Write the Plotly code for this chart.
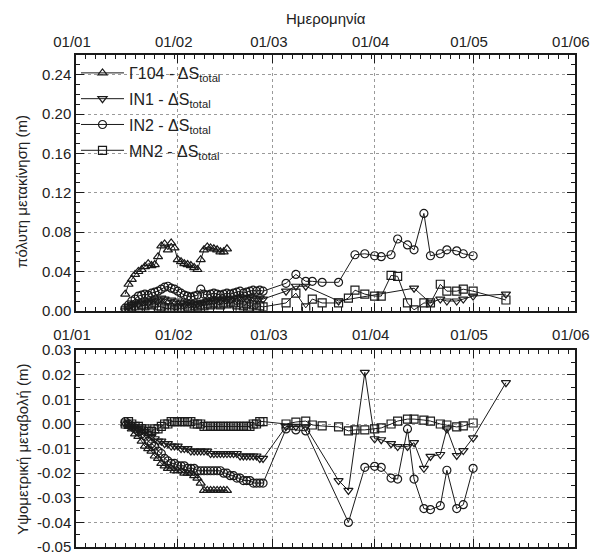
import pandas as pd
import plotly.graph_objects as go

# ---------------- data ----------------
g104_dates = [d.strftime("%Y-%m-%d") for d in pd.date_range("2008-01-16", periods=32)]
early_dates = [d.strftime("%Y-%m-%d") for d in pd.date_range("2008-01-16", periods=43)]

g104_top = [0.017,0.027,0.032,0.037,0.040,0.042,0.045,0.048,0.046,0.047,
            0.055,0.066,0.068,0.062,0.069,0.064,0.052,0.050,0.048,0.047,
            0.046,0.044,0.042,0.052,0.062,0.065,0.064,0.063,0.062,0.060,
            0.060,0.063]
g104_bot = [0.000,-0.001,-0.002,-0.004,-0.005,-0.007,-0.009,-0.010,-0.011,-0.013,
            -0.014,-0.016,-0.017,-0.018,-0.018,-0.019,-0.019,-0.019,-0.020,-0.020,
            -0.020,-0.021,-0.022,-0.024,-0.027,-0.027,-0.027,-0.027,-0.027,-0.027,
            -0.027,-0.027]

in1_top_early = [0.000,0.004,0.006,0.008,0.007,0.009,0.010,0.008,0.011,0.012,
                 0.010,0.013,0.012,0.010,0.011,0.009,0.010,0.008,0.007,0.009,
                 0.008,0.006,0.007,0.008,0.009,0.010,0.011,0.010,0.012,0.011,
                 0.013,0.012,0.011,0.013,0.012,0.014,0.013,0.012,0.014,0.013,
                 0.012,0.013,0.012]
in2_top_early = [0.003,0.006,0.010,0.012,0.015,0.016,0.017,0.016,0.018,0.019,
                 0.020,0.022,0.024,0.025,0.023,0.022,0.020,0.018,0.016,0.015,
                 0.014,0.015,0.016,0.022,0.017,0.016,0.017,0.018,0.017,0.016,
                 0.017,0.018,0.017,0.018,0.019,0.020,0.018,0.019,0.020,0.021,
                 0.020,0.021,0.020]
mn2_top_early = [0.000,0.002,0.004,0.005,0.003,0.006,0.005,0.007,0.006,0.008,
                 0.005,0.004,0.003,0.002,0.003,0.001,0.002,0.003,0.002,0.004,
                 0.003,0.005,0.004,0.006,0.005,0.007,0.006,0.008,0.007,0.006,
                 0.008,0.007,0.009,0.008,0.006,0.003,0.005,0.007,0.004,0.006,
                 0.003,0.005,0.004]
in1_bot_early = [0.000,0.000,-0.001,-0.001,-0.002,-0.002,-0.003,-0.004,-0.005,-0.006,
                 -0.007,-0.007,-0.008,-0.008,-0.009,-0.009,-0.009,-0.010,-0.010,-0.010,
                 -0.011,-0.011,-0.011,-0.011,-0.011,-0.011,-0.012,-0.012,-0.012,-0.012,
                 -0.012,-0.012,-0.012,-0.012,-0.012,-0.013,-0.013,-0.013,-0.013,-0.013,
                 -0.013,-0.014,-0.014]
in2_bot_early = [0.001,0.000,-0.001,-0.002,-0.003,-0.004,-0.005,-0.007,-0.008,-0.009,
                 -0.011,-0.012,-0.014,-0.015,-0.016,-0.016,-0.017,-0.017,-0.017,-0.018,
                 -0.018,-0.018,-0.019,-0.019,-0.019,-0.019,-0.019,-0.019,-0.019,-0.019,
                 -0.020,-0.020,-0.021,-0.021,-0.022,-0.022,-0.023,-0.023,-0.023,-0.024,
                 -0.024,-0.024,-0.024]
mn2_bot_early = [0.000,0.001,0.000,-0.001,-0.001,-0.002,-0.002,-0.003,-0.003,-0.002,
                 -0.002,-0.001,0.000,0.000,0.001,0.001,0.001,0.001,0.001,0.001,
                 0.001,0.000,0.000,0.000,-0.001,-0.001,-0.001,-0.001,-0.001,-0.001,
                 -0.001,-0.001,-0.001,-0.001,-0.001,-0.001,-0.001,-0.001,-0.001,0.000,
                 0.000,0.001,0.001]

in2_top_late_dates = ["2008-03-05","2008-03-08","2008-03-11","2008-03-13","2008-03-16","2008-03-21",
                      "2008-03-26","2008-03-29","2008-04-01","2008-04-03","2008-04-06","2008-04-08",
                      "2008-04-11","2008-04-13","2008-04-16","2008-04-18","2008-04-21","2008-04-23",
                      "2008-04-26","2008-04-28","2008-05-01"]
in2_top_late = [0.028,0.037,0.030,0.030,0.029,0.029,0.057,0.058,0.056,0.055,0.057,0.073,
                0.067,0.062,0.099,0.056,0.058,0.062,0.061,0.058,0.056]

in2_bot_late_dates = ["2008-03-05","2008-03-08","2008-03-11","2008-03-24","2008-03-29","2008-04-01",
                      "2008-04-03","2008-04-06","2008-04-08","2008-04-11","2008-04-13","2008-04-16",
                      "2008-04-18","2008-04-21","2008-04-23","2008-04-26","2008-04-28","2008-05-01"]
in2_bot_late = [-0.002,-0.0024,-0.0028,-0.040,-0.0176,-0.0172,-0.0176,-0.022,-0.0224,-0.002,
                -0.0224,-0.0344,-0.0348,-0.0332,-0.0188,-0.0344,-0.0328,-0.018]

mn2_late_dates = ["2008-03-05","2008-03-08","2008-03-11","2008-03-13","2008-03-16","2008-03-21",
                  "2008-03-24","2008-03-26","2008-03-29","2008-04-01","2008-04-03","2008-04-06",
                  "2008-04-08","2008-04-11","2008-04-13","2008-04-16","2008-04-18","2008-04-21",
                  "2008-04-23","2008-04-26","2008-04-28","2008-05-01","2008-05-11"]
mn2_top_late = [0.008,0.018,0.003,0.012,0.008,0.008,0.013,0.021,0.017,0.015,0.015,0.036,
                0.035,0.008,0.001,0.008,0.008,0.027,0.020,0.020,0.022,0.020,0.011]
mn2_bot_late = [0.000,0.0008,0.0012,-0.0004,-0.0008,-0.0012,-0.0028,-0.0024,-0.0024,-0.002,
                -0.0016,0.000,0.0012,0.002,0.002,0.0016,0.0012,0.000,-0.0004,-0.0012,
                -0.0008,0.0004]

in1_top_late_dates = ["2008-03-05","2008-03-08","2008-03-11","2008-03-21","2008-04-13","2008-04-18",
                      "2008-04-21","2008-04-23","2008-04-26","2008-04-28","2008-05-01","2008-05-11"]
in1_top_late = [0.020,0.025,0.025,0.010,0.023,0.008,0.012,0.010,0.010,0.012,0.015,0.017]

in1_bot_late_dates = ["2008-03-05","2008-03-08","2008-03-11","2008-03-21","2008-03-24","2008-03-29",
                      "2008-04-01","2008-04-03","2008-04-06","2008-04-08","2008-04-11","2008-04-13",
                      "2008-04-16","2008-04-18","2008-04-21","2008-04-23","2008-04-26","2008-04-28",
                      "2008-05-01","2008-05-11"]
in1_bot_late = [-0.001,-0.001,-0.0012,-0.023,-0.027,0.021,-0.006,-0.0064,-0.008,-0.0092,
                -0.0092,-0.0076,-0.018,-0.0132,-0.0124,-0.002,-0.0128,-0.0108,-0.0056,0.0168]

names = ["Γ104 - ΔS<sub>total</sub>", "IN1 - ΔS<sub>total</sub>",
         "IN2 - ΔS<sub>total</sub>", "MN2 - ΔS<sub>total</sub>"]
symbols = ["triangle-up-open", "triangle-down-open", "circle-open", "square-open"]

month_ticks = ["2008-01-01", "2008-02-01", "2008-03-01", "2008-04-01", "2008-05-01", "2008-06-01"]
month_labels = ["01/01", "01/02", "01/03", "01/04", "01/05", "01/06"]
x_range = ["2008-01-01", "2008-06-01 01:00"]
top_y_ticks = [0.00, 0.04, 0.08, 0.12, 0.16, 0.20, 0.24]
bot_y_ticks = [-0.05, -0.04, -0.03, -0.02, -0.01, 0.00, 0.01, 0.02, 0.03]

# ---------------- figure ----------------
series_top = [
    (g104_dates, g104_top),
    (early_dates + in1_top_late_dates, in1_top_early + in1_top_late),
    (early_dates + in2_top_late_dates, in2_top_early + in2_top_late),
    (early_dates + mn2_late_dates, mn2_top_early + mn2_top_late),
]
series_bot = [
    (g104_dates, g104_bot),
    (early_dates + in1_bot_late_dates, in1_bot_early + in1_bot_late),
    (early_dates + in2_bot_late_dates, in2_bot_early + in2_bot_late),
    (early_dates + mn2_late_dates[:len(mn2_bot_late)], mn2_bot_early + mn2_bot_late),
]

INK = "#1a1a1a"
fig = go.Figure()
for i, (xs, ys) in enumerate(series_top):
    fig.add_trace(go.Scatter(x=xs, y=ys, mode="lines+markers", name=names[i],
                             legendgroup=f"g{i}",
                             line=dict(color=INK, width=1),
                             marker=dict(symbol=symbols[i], size=8, color=INK,
                                         line=dict(width=1.2, color=INK)),
                             xaxis="x", yaxis="y"))
for i, (xs, ys) in enumerate(series_bot):
    fig.add_trace(go.Scatter(x=xs, y=ys, mode="lines+markers", name=names[i],
                             showlegend=False, legendgroup=f"g{i}",
                             line=dict(color=INK, width=1),
                             marker=dict(symbol=symbols[i], size=8, color=INK,
                                         line=dict(width=1.2, color=INK)),
                             xaxis="x2", yaxis="y2"))

FONT = "Liberation Sans, Arial, sans-serif"
common_x = dict(type="date", range=x_range, side="top", tickmode="array",
                tickvals=month_ticks, ticktext=month_labels,
                ticklabeloverflow="allow", ticklabelshift=-4,
                showline=True, linecolor=INK, linewidth=1.5,
                mirror="allticks", ticks="inside", ticklen=8, tickcolor=INK,
                showgrid=True, gridcolor="#9a9a9a", griddash="dot", gridwidth=1,
                zeroline=False, tickfont=dict(size=15, color="#222", family=FONT),
                minor=dict(ticks="inside", ticklen=4, tickcolor=INK,
                           dtick=3 * 86400000, tick0="2008-01-01", showgrid=False))
common_y = dict(showline=True, linecolor=INK, linewidth=1.5, mirror="allticks",
                ticks="inside", ticklen=8, tickcolor=INK, showgrid=True,
                gridcolor="#9a9a9a", griddash="dot", gridwidth=1, zeroline=False,
                tickfont=dict(size=15, color="#222", family=FONT))

H_PLOT = 500
def py(px):
    return (557 - 2 - px) / H_PLOT
def px_x(px):
    return (px - 76) / 500

fig.update_layout(
    width=592, height=557,
    margin=dict(l=76, r=16, t=55, b=2),
    paper_bgcolor="white", plot_bgcolor="white",
    font=dict(family=FONT, color="#222"),
    xaxis=dict(**common_x, anchor="y"),
    xaxis2=dict(**common_x, anchor="y2", ticklabelstandoff=2),
    yaxis=dict(**common_y, domain=[0.48, 1.0], range=[0, 0.26],
               tickvals=top_y_ticks, ticktext=[f"{v:.2f}" for v in top_y_ticks],
               minor=dict(ticks="inside", ticklen=4, tickcolor=INK, dtick=0.01, showgrid=False)),
    yaxis2=dict(**common_y, domain=[0.0, 0.40], range=[-0.05, 0.03],
                tickvals=bot_y_ticks, ticktext=[f"{v:.2f}" for v in bot_y_ticks],
                minor=dict(ticks="inside", ticklen=4, tickcolor=INK, dtick=0.005, showgrid=False)),
    legend=dict(x=0.0, y=py(56), xanchor="left", yanchor="top", bgcolor="rgba(0,0,0,0)",
                font=dict(size=16, color="#222", family=FONT), itemwidth=43,
                tracegroupgap=2),
    showlegend=True,
    annotations=[
        dict(text="Ημερομηνία", x=0.5, xref="paper", y=py(18), yref="paper",
             xanchor="center", yanchor="middle", showarrow=False,
             font=dict(size=15, color="#222", family=FONT)),
        dict(text="πόλυτη μετακίνηση (m)", xref="paper", yref="paper", x=px_x(22), y=py(194),
             xanchor="center", yanchor="middle",
             textangle=-90, showarrow=False, font=dict(size=15, color="#222", family=FONT)),
        dict(text="Υψομετρική μεταβολή (m)", xref="paper", yref="paper", x=px_x(22), y=py(456),
             xanchor="center", yanchor="middle",
             textangle=-90, showarrow=False, font=dict(size=15, color="#222", family=FONT)),
    ],
)

fig.write_html("out.html")
